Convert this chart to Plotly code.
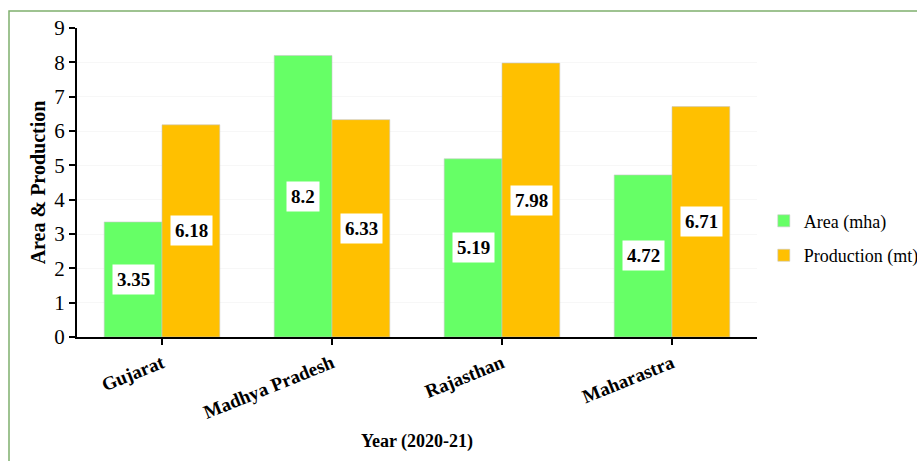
import plotly.graph_objects as go

states = ["Gujarat", "Madhya Pradesh", "Rajasthan", "Maharastra"]
area = [3.35, 8.2, 5.19, 4.72]
production = [6.18, 6.33, 7.98, 6.71]
area_labels = ["3.35", "8.2", "5.19", "4.72"]
prod_labels = ["6.18", "6.33", "7.98", "6.71"]
y_ticks = list(range(0, 10))

FONT = "Liberation Serif"
GREEN = "#66ff66"
ORANGE = "#ffc000"

fig = go.Figure()
fig.add_trace(go.Bar(x=states, y=area, name="Area (mha)", legendgroup="a",
                     marker=dict(color=GREEN, line=dict(color="#c8c8c8", width=0.6))))
fig.add_trace(go.Bar(x=states, y=production, name="Production (mt)", legendgroup="b",
                     marker=dict(color=ORANGE, line=dict(color="#c8c8c8", width=0.6))))

# value labels with white boxes, centred on each bar
for i, s in enumerate(states):
    fig.add_annotation(x=s, y=area[i] / 2, text="<b>%s</b>" % area_labels[i], xshift=-29, showarrow=False,
                       bgcolor="white", borderpad=4, font=dict(family=FONT, size=19, color="black"))
    fig.add_annotation(x=s, y=production[i] / 2, text="<b>%s</b>" % prod_labels[i], xshift=29, showarrow=False,
                       bgcolor="white", borderpad=4, font=dict(family=FONT, size=19, color="black"))

# outer green frame
fig.add_shape(type="rect", xref="paper", yref="paper", x0=-0.1, x1=2, y0=-1, y1=1.055,
              line=dict(color="#7fb06e", width=1.5), fillcolor="rgba(0,0,0,0)", layer="below")

fig.update_layout(
    width=917, height=461,
    margin=dict(l=77, r=160, t=28, b=124, autoexpand=False),
    paper_bgcolor="white", plot_bgcolor="white",
    barmode="group", bargap=0.32, bargroupgap=0,
    font=dict(family=FONT, color="black"),
    showlegend=True,
    legend=dict(x=1.01, y=0.32, xanchor="left", yanchor="middle", font=dict(family=FONT, size=18, color="black"),
                bgcolor="rgba(0,0,0,0)", tracegroupgap=8, itemwidth=30),
    xaxis=dict(showline=True, linecolor="black", linewidth=2, ticks="outside", ticklen=6, tickcolor="black",
               tickwidth=2, tickangle=-22, tickfont=dict(family=FONT, size=19, color="black"),
               tickprefix="<b>", ticksuffix="</b>",
               title=dict(text="<b>Year (2020-21)</b>", font=dict(family=FONT, size=18, color="black"), standoff=13)),
    yaxis=dict(range=[0, 9], tickvals=y_ticks, showline=True, linecolor="black", linewidth=2, ticks="outside",
               ticklen=6, tickcolor="black", tickwidth=2, showgrid=True, gridcolor="#f7f7f7", gridwidth=1,
               zeroline=False, tickfont=dict(family=FONT, size=21, color="black"),
               title=dict(text="<b>Area & Production</b>", font=dict(family=FONT, size=20, color="black"), standoff=3)),
)

fig.write_html("out.html")
